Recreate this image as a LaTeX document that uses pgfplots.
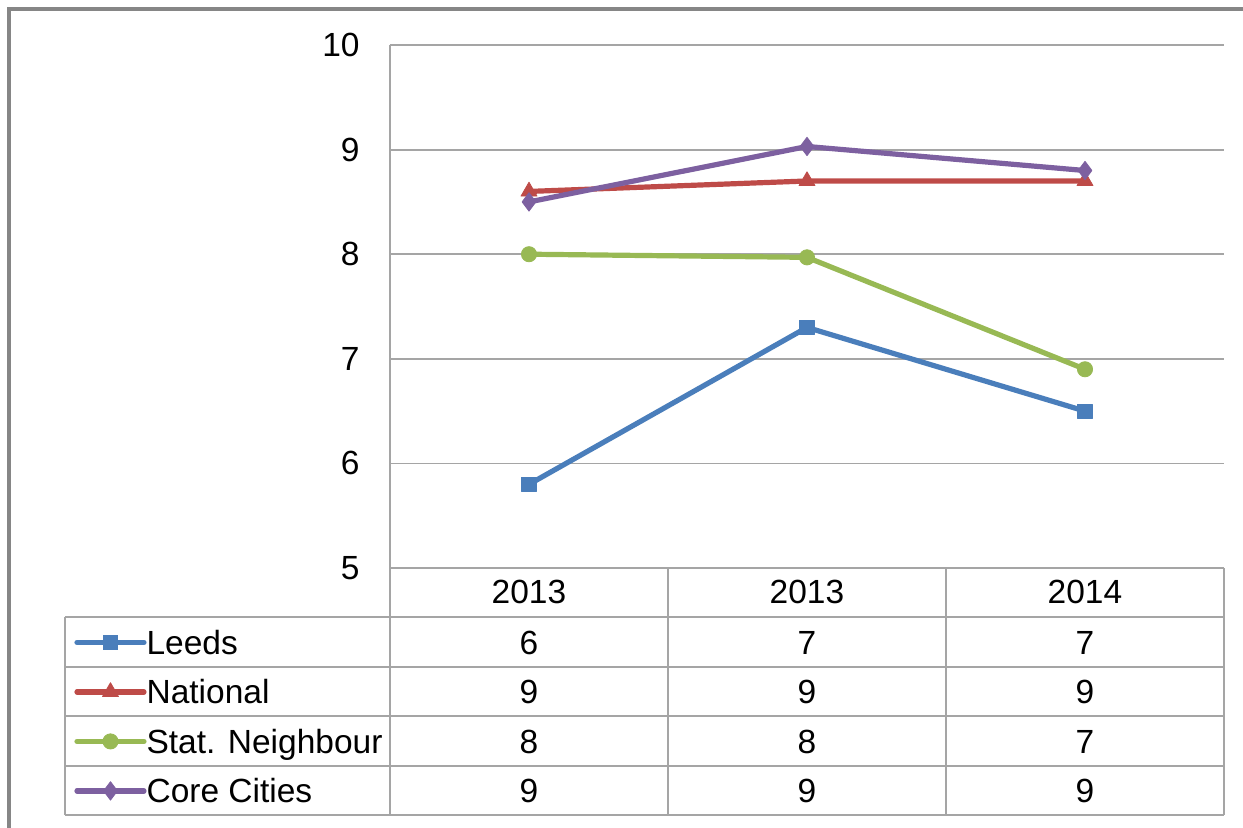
\documentclass[border=0pt]{standalone}
\usepackage{pgfplots}
\pgfplotsset{compat=1.18}
\usepackage{fontspec}
\setmainfont{Liberation Sans}
\definecolor{cLeeds}{RGB}{74,126,187}
\definecolor{cNat}{RGB}{190,75,72}
\definecolor{cStat}{RGB}{152,185,84}
\definecolor{cCore}{RGB}{125,96,160}
\definecolor{gridc}{RGB}{165,165,165}
\definecolor{framec}{RGB}{134,134,134}
\newcommand{\fs}{\fontsize{16.75}{20}\selectfont}
\begin{document}
\begin{tikzpicture}[font=\fs]
\useasboundingbox (0,0) rectangle (621.5pt,413.5pt);
\begin{axis}[
  at={(195pt,129.5pt)}, anchor=south west,
  scale only axis, width=417pt, height=261.5pt,
  xmin=0.5, xmax=3.5, ymin=5, ymax=10,
  xtick={1,2,3}, xticklabels={2013,2013,2014},
  ytick={5,6,7,8,9,10},
  major tick length=0pt,
  axis line style={draw=none},
  ymajorgrids, grid style={gridc, line width=0.9pt},
  /pgf/number format/assume math mode=true,
  xticklabel style={anchor=center, yshift=-12pt, inner sep=0pt},
  yticklabel style={anchor=east, inner sep=0pt, xshift=-15pt},
  tick label style={font=\fs},
  clip=false,
  legend cell align=left,
  legend style={at={(-0.3789,-0.0956)}, anchor=north west, draw=none, fill=none,
    inner sep=0pt, row sep=0.75pt, column sep=0pt,
    nodes={inner sep=0pt, text height=18pt, text depth=6pt, anchor=west, font=\fs}},
  legend image code/.code={\draw[mark repeat=2,mark phase=2] plot coordinates {(0pt,0pt) (16.75pt,0pt) (33.5pt,0pt)};},
  every axis plot/.append style={line width=2.6pt, line cap=round, line join=round},
]
\addplot[cLeeds, mark=square*, mark size=3.6pt, mark options={line width=0.4pt}]
  coordinates {(1,5.8) (2,7.3) (3,6.5)};
\addlegendentry{Leeds}
\addplot[cNat, mark=triangle*, mark size=4.6pt, mark options={line width=0.4pt}]
  coordinates {(1,8.6) (2,8.7) (3,8.7)};
\addlegendentry{National}
\addplot[cStat, mark=*, mark size=3.8pt, mark options={line width=0.4pt}]
  coordinates {(1,8.0) (2,7.97) (3,6.9)};
\addlegendentry{Stat. Neighbour}
\addplot[cCore, mark=diamond*, mark size=4.6pt, mark options={line width=0.4pt}]
  coordinates {(1,8.5) (2,9.03) (3,8.8)};
\addlegendentry{Core Cities}
\end{axis}
\begin{scope}[shift={(0pt,413.5pt)}, x=0.5pt, y=-0.5pt]
  \draw[gridc, line width=0.9pt]
    (65,617) -- (1224,617)
    (65,667) -- (1224,667)
    (65,716) -- (1224,716)
    (65,766) -- (1224,766)
    (65,815) -- (1224,815)
    (65,617) -- (65,815)
    (390,45) -- (390,815)
    (668,568) -- (668,815)
    (946,568) -- (946,815)
    (1224,568) -- (1224,815);
  \draw[framec, line width=1.6pt] (9,830) -- (9,9) -- (1246,9);
  \foreach \x/\a/\b/\c/\d in {529/6/9/8/9, 807/7/9/8/9, 1085/7/9/7/9} {
    \node[inner sep=0pt, anchor=center, text height=12pt, text depth=0pt] at (\x,642) {\a};
    \node[inner sep=0pt, anchor=center, text height=12pt, text depth=0pt] at (\x,691.5) {\b};
    \node[inner sep=0pt, anchor=center, text height=12pt, text depth=0pt] at (\x,741) {\c};
    \node[inner sep=0pt, anchor=center, text height=12pt, text depth=0pt] at (\x,790.5) {\d};
  }
\end{scope}
\end{tikzpicture}
\end{document}
